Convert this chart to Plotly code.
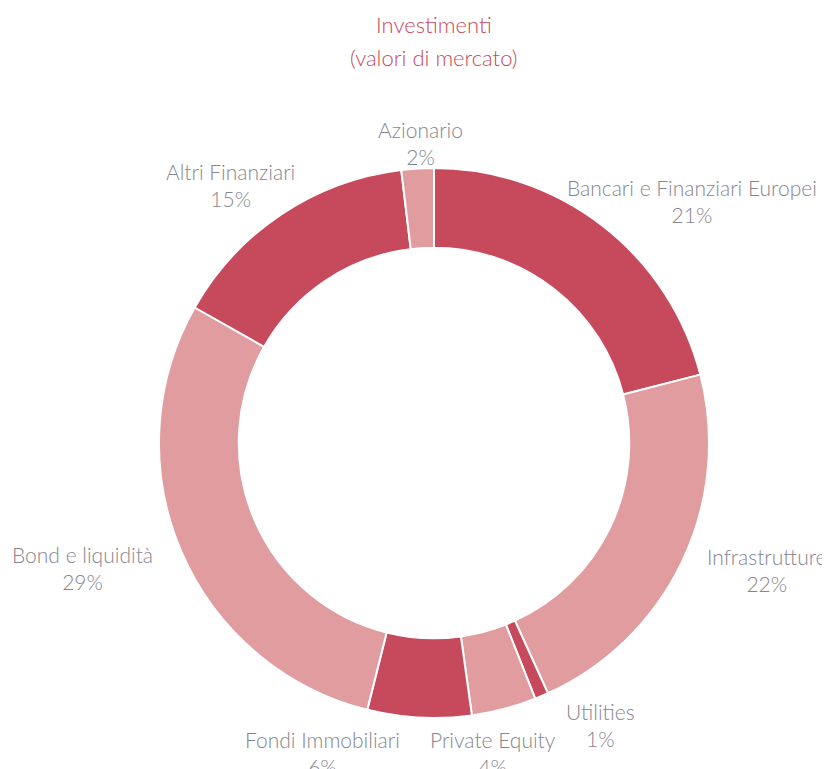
import plotly.graph_objects as go

# ── Data (clockwise from 12 o'clock) ─────────────────────────────────────────
categories = [
    "Bancari e Finanziari Europei",
    "Infrastrutture",
    "Utilities",
    "Private Equity",
    "Fondi Immobiliari",
    "Bond e liquidità",
    "Altri Finanziari",
    "Azionario",
]
values = [21.0, 22.2, 0.8, 3.8, 6.1, 29.3, 14.9, 1.9]

# ── Style ───────────────────────────────────────────────────────────────────
W, H = 830, 769
OFF = 8  # page body margin
DARK = "#C74A5C"
LIGHT = "#E09C9E"
TEXT = "#86868E"
TITLE = "#C8495A"
FONT = "Lato"

colors = [DARK if i % 2 == 0 else LIGHT for i in range(len(categories))]

# label centres in pixels (x, y of the two-line block)
label_pos = [
    (692, 201),
    (766, 570),
    (600, 725),
    (493, 753),
    (322, 753),
    (82, 568),
    (230, 185),
    (420, 143),
]

cx, cy, r = 434 - OFF, 443 - OFF, 275

fig = go.Figure(
    go.Pie(
        labels=categories,
        values=values,
        sort=False,
        direction="clockwise",
        rotation=0,
        hole=0.71,
        textinfo="none",
        marker=dict(colors=colors, line=dict(color="white", width=2)),
        domain=dict(
            x=[(cx - r) / W, (cx + r) / W],
            y=[1 - (cy + r) / H, 1 - (cy - r) / H],
        ),
        showlegend=False,
    )
)

total = sum(values)
annotations = []
for name, v, (px, py) in zip(categories, values, label_pos):
    annotations.append(
        dict(
            text=f"{name}<br>{round(v / total * 100)}%",
            x=(px - OFF) / W,
            y=1 - (py - OFF) / H,
            xref="paper",
            yref="paper",
            xanchor="center",
            yanchor="middle",
            showarrow=False,
            align="center",
            font=dict(family=FONT, size=21, color=TEXT, weight=300),
        )
    )

for txt, py in [("Investimenti", 25), ("(valori di mercato)", 57)]:
    annotations.append(
        dict(
            text=txt,
            x=(434 - OFF) / W,
            y=1 - (py - OFF) / H,
            xref="paper",
            yref="paper",
            xanchor="center",
            yanchor="middle",
            showarrow=False,
            font=dict(family=FONT, size=22, color=TITLE, weight=300),
        )
    )

fig.update_layout(
    width=W,
    height=H,
    margin=dict(l=0, r=0, t=0, b=0),
    paper_bgcolor="white",
    plot_bgcolor="white",
    annotations=annotations,
)

fig.write_html("out.html")
